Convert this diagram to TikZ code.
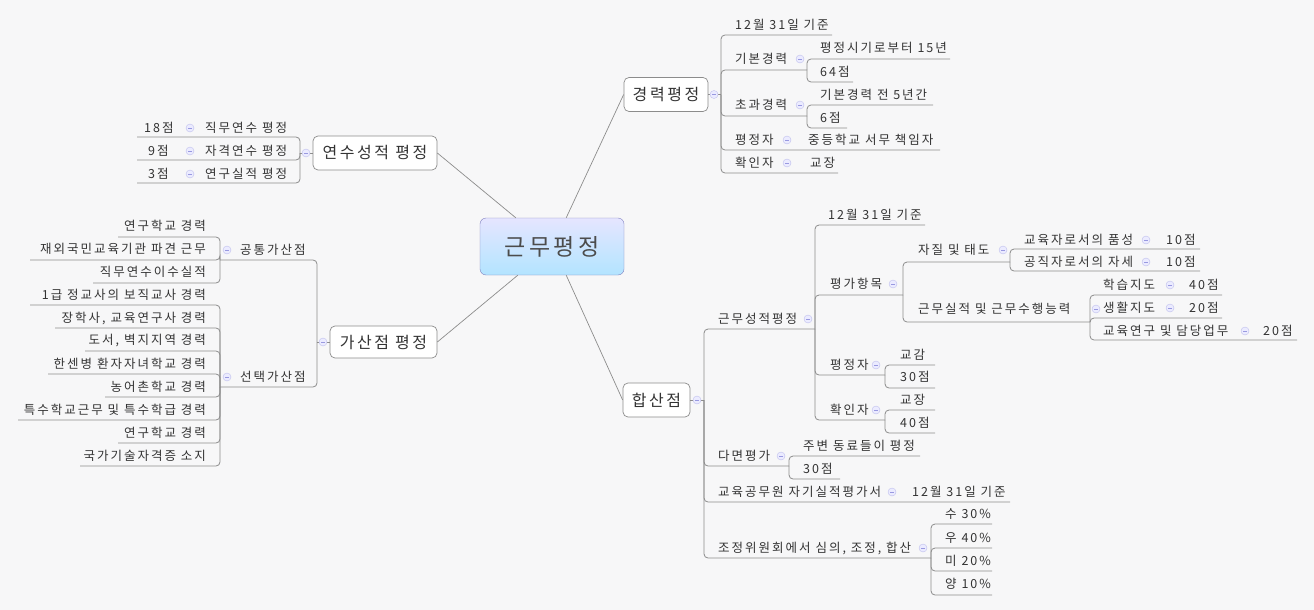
\documentclass[tikz,border=0pt]{standalone}
\usepackage{fontspec}
\setmainfont{Noto Sans CJK KR}[LetterSpace=16]
\begin{document}
\begin{tikzpicture}[x=1pt,y=-1pt,
  ln/.style={draw=black!45,line width=0.8pt,rounded corners=4pt},
  tx/.style={anchor=west,inner sep=0pt,font=\fontsize{12.5}{13}\selectfont,text=black!80},
  br/.style={draw=black!45,fill=white,rounded corners=5pt,line width=0.7pt,font=\fontsize{16}{17}\selectfont,text=black!80,inner sep=0pt},
  mcs/.style={circle,draw=black!30!blue!25,fill=blue!8,inner sep=0pt,minimum size=8pt}]
\fill[blue!2!black!3] (0,0) rectangle (1314,610);
\useasboundingbox (0,0) rectangle (1314,610);
\newcommand\mcx[2]{\node[mcs] at (#1,#2) {}; \draw[black!30!blue!40,line width=0.6pt] (#1-2,#2)--(#1+2,#2);}
\newcommand\ul[4]{\draw[ln] (#1,#2) |- (#3,#4);}
\newcommand\tx[3]{\node[tx] at (#1,#2) {#3};}
% center
\node[draw=blue!50!black!50,rounded corners=6pt,top color=blue!10,bottom color=blue!35!cyan!30,minimum width=144pt,minimum height=57pt,font=\fontsize{23}{24}\selectfont,text=black!70] (c) at (552,246.5) {근무평정};
\node[br,minimum width=84pt,minimum height=34pt] (k) at (666,94.5) {경력평정};
\node[br,minimum width=67pt,minimum height=34pt] (h) at (656.5,400) {합산점};
\node[br,minimum width=124pt,minimum height=34pt] (y) at (375,153) {연수성적 평정};
\node[br,minimum width=107pt,minimum height=32pt] (g) at (383.5,342) {가산점 평정};
\draw[black!45,line width=0.7pt] (c.north east)++(-58,0) -- (k.west);
\draw[black!45,line width=0.7pt] (c.south east)++(-58,0) -- (h.west);
\draw[black!45,line width=0.7pt] (c.north west)++(36,0) -- (y.east);
\draw[black!45,line width=0.7pt] (c.south west)++(38,0) -- (g.east);
% ===== 경력평정
\draw[black!45] (k.east)--(721,94.5);
\ul{721}{94.5}{832}{35} \tx{735}{25}{12월 31일 기준}
\ul{721}{94.5}{807}{70} \tx{735}{59}{기본경력} \mcx{800}{59}
\ul{807}{70}{950}{59} \tx{820}{48}{평정시기로부터 15년}
\ul{807}{70}{853}{82} \tx{820}{72}{64점}
\ul{721}{94.5}{807}{116} \tx{735}{105}{초과경력} \mcx{800}{105}
\ul{807}{116}{933}{105} \tx{820}{95}{기본경력 전 5년간}
\ul{807}{116}{847}{128} \tx{820}{118}{6점}
\ul{721}{94.5}{940}{150} \tx{735}{140}{평정자} \mcx{787}{140} \tx{808}{140}{중등학교 서무 책임자}
\ul{721}{94.5}{838}{173} \tx{735}{163}{확인자} \mcx{787}{163} \tx{810}{163}{교장}
\mcx{714}{94.5}
% ===== 합산점
\draw[black!45] (h.east)--(704,400);
\ul{704}{400}{815}{329} \tx{718}{319}{근무성적평정} \mcx{808}{319}
\ul{815}{329}{925}{225} \tx{828}{215}{12월 31일 기준}
\ul{815}{329}{903}{295} \tx{830}{284}{평가항목} \mcx{893}{284}
\ul{903}{295}{1010}{262} \tx{918}{250}{자질 및 태도} \mcx{1003}{250}
\ul{1010}{262}{1200}{249} \tx{1024}{240}{교육자로서의 품성} \mcx{1146}{240} \tx{1166}{240}{10점}
\ul{1010}{262}{1200}{271} \tx{1024}{262}{공직자로서의 자세} \mcx{1146}{262} \tx{1166}{262}{10점}
\ul{903}{295}{1090}{322} \tx{918}{309}{근무실적 및 근무수행능력} \mcx{1096}{309}
\ul{1090}{322}{1222}{295} \tx{1103}{285}{학습지도} \mcx{1170}{285} \tx{1189}{285}{40점}
\ul{1090}{322}{1222}{318} \tx{1103}{308}{생활지도} \mcx{1170}{308} \tx{1189}{308}{20점}
\ul{1090}{322}{1297}{340} \tx{1103}{331}{교육연구 및 담당업무} \mcx{1245}{331} \tx{1263}{331}{20점}
\ul{815}{329}{885}{375} \tx{830}{365}{평정자} \mcx{876}{365}
\ul{885}{375}{935}{365} \tx{900}{355}{교감}
\ul{885}{375}{935}{388} \tx{900}{377}{30점}
\ul{815}{329}{885}{420} \tx{830}{410}{확인자} \mcx{876}{410}
\ul{885}{420}{935}{410} \tx{900}{400}{교장}
\ul{885}{420}{935}{433} \tx{900}{423}{40점}
\ul{704}{400}{789}{466} \tx{718}{456}{다면평가} \mcx{781}{456}
\ul{789}{466}{920}{456} \tx{803}{446}{주변 동료들이 평정}
\ul{789}{466}{840}{479} \tx{803}{469}{30점}
\ul{704}{400}{1010}{502} \tx{718}{492}{교육공무원 자기실적평가서} \mcx{892}{492} \tx{912}{492}{12월 31일 기준}
\ul{704}{400}{931}{558} \tx{718}{548}{조정위원회에서 심의, 조정, 합산} \mcx{923}{548}
\ul{931}{558}{992}{524} \tx{945}{514}{수 30\%}
\ul{931}{558}{992}{548} \tx{945}{538}{우 40\%}
\ul{931}{558}{992}{571} \tx{945}{561}{미 20\%}
\ul{931}{558}{992}{595} \tx{945}{584}{양 10\%}
\mcx{697}{400}
% ===== 연수성적 평정
\draw[black!45] (y.west)--(300,153);
\ul{300}{153}{137}{137} \tx{144}{128}{18점} \mcx{190}{128} \tx{205}{128}{직무연수 평정}
\ul{300}{153}{137}{160} \tx{148}{151}{9점} \mcx{190}{151} \tx{205}{151}{자격연수 평정}
\ul{300}{153}{137}{183} \tx{148}{174}{3점} \mcx{190}{174} \tx{205}{174}{연구실적 평정}
\mcx{306}{153}
% ===== 가산점 평정
\draw[black!45] (g.west)--(317,342);
\ul{317}{342}{220}{260} \tx{240}{250}{공통가산점} \mcx{227}{250}
\ul{220}{260}{118}{237} \node[tx,anchor=east] at (206,226) {연구학교 경력};
\ul{220}{260}{30}{260} \node[tx,anchor=east] at (206,249) {재외국민교육기관 파견 근무};
\ul{220}{260}{93}{283} \node[tx,anchor=east] at (206,272) {직무연수이수실적};
\ul{317}{342}{220}{387} \tx{240}{377}{선택가산점} \mcx{227}{377}
\ul{220}{387}{30}{305} \node[tx,anchor=east] at (206,295) {1급 정교사의 보직교사 경력};
\ul{220}{387}{55}{328} \node[tx,anchor=east] at (206,318) {장학사, 교육연구사 경력};
\ul{220}{387}{85}{351} \node[tx,anchor=east] at (206,341) {도서, 벽지지역 경력};
\ul{220}{387}{48}{374} \node[tx,anchor=east] at (206,364) {한센병 환자자녀학교 경력};
\ul{220}{387}{105}{397} \node[tx,anchor=east] at (206,387) {농어촌학교 경력};
\ul{220}{387}{18}{420} \node[tx,anchor=east] at (206,410) {특수학교근무 및 특수학급 경력};
\ul{220}{387}{118}{443} \node[tx,anchor=east] at (206,433) {연구학교 경력};
\ul{220}{387}{80}{466} \node[tx,anchor=east] at (206,456) {국가기술자격증 소지};
\mcx{323}{342}
\end{tikzpicture}
\end{document}
